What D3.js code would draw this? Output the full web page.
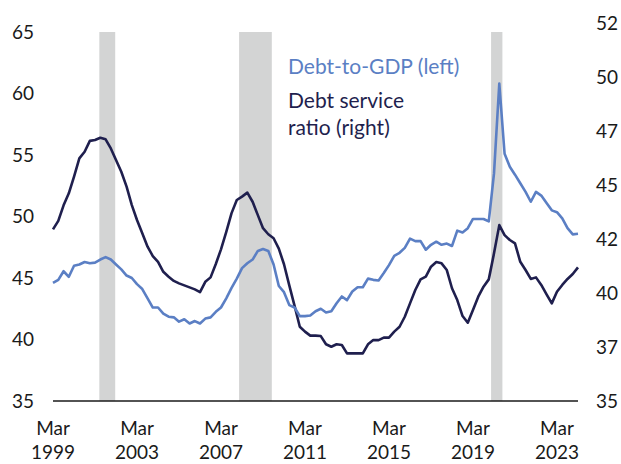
<!DOCTYPE html>
<html><head><meta charset="utf-8">
<script src="https://cdn.jsdelivr.net/npm/d3@7"></script>
<style>body{margin:0;background:#fff}svg{display:block}</style>
</head><body>
<svg id="chart" width="621" height="464"></svg>
<script>
// quarterly data, Mar 1999 .. Mar 2024
const startQuarter = "1999-03-01";
const debtToGDP = [44.6,44.85,45.55,45.1,46.0,46.1,46.3,46.2,46.25,46.5,46.7,46.5,46.1,45.7,45.2,45.0,44.5,44.1,43.35,42.6,
 42.6,42.1,41.85,41.8,41.45,41.65,41.3,41.5,41.3,41.7,41.8,42.25,42.6,43.35,44.2,44.95,45.8,46.2,46.5,47.2,
 47.35,47.2,46.1,44.35,43.85,42.8,42.6,41.9,41.9,41.95,42.3,42.5,42.2,42.3,42.95,43.5,43.2,43.9,44.25,44.25,
 44.95,44.85,44.8,45.4,46.05,46.8,47.05,47.45,48.2,48.0,48.0,47.3,47.7,47.95,47.7,47.8,47.6,48.85,48.7,49.05,
 49.8,49.8,49.8,49.6,53.5,60.8,55.1,54.05,53.4,52.7,52.0,51.2,52.0,51.7,51.1,50.5,50.35,49.85,49.05,48.55,48.6];
const debtService = [42.72,43.1,43.8,44.34,45.09,45.91,46.21,46.7,46.74,46.84,46.77,46.36,45.84,45.31,44.64,43.81,43.14,42.54,41.94,41.52,
 41.26,40.81,40.59,40.4,40.29,40.2,40.11,40.02,39.9,40.36,40.56,41.16,41.82,42.61,43.45,44.04,44.19,44.37,43.96,43.36,
 42.77,42.5,42.32,41.85,41.15,40.2,39.28,38.34,38.12,37.94,37.94,37.92,37.55,37.44,37.55,37.52,37.14,37.14,37.14,37.14,
 37.55,37.74,37.74,37.85,37.85,38.12,38.34,38.79,39.39,39.99,40.47,40.59,41.04,41.25,41.19,40.89,40.07,39.54,38.82,38.52,
 39.09,39.69,40.14,40.47,41.64,42.91,42.46,42.24,42.09,41.26,40.89,40.49,40.56,40.22,39.8,39.39,39.91,40.22,40.49,40.71,41.01];
const recessions = [["2001-05-15","2002-02-15"],["2008-01-10","2009-08-01"],["2020-01-10","2020-07-25"]];
const xTickDates = ["1999-03-01","2003-03-01","2007-03-01","2011-03-01","2015-03-01","2019-03-01","2023-03-01"];
const leftTicks = [35,40,45,50,55,60,65];
const rightTicks = [35,37.43,39.86,42.29,44.71,47.14,49.57,52];
const legendLabels = ["Debt-to-GDP (left)", "Debt service", "ratio (right)"];

const parse = d3.timeParse("%Y-%m-%d");
const t0 = parse(startQuarter);
const dates = debtToGDP.map((_, i) => d3.timeMonth.offset(t0, 3 * i));

const svg = d3.select("#chart");
const FONT = "Lato, 'Open Sans', sans-serif";
const x = d3.scaleTime().domain([t0, dates[dates.length - 1]]).range([53, 578]);
const yL = d3.scaleLinear().domain([35, 65]).range([401, 32]);
const yR = d3.scaleLinear().domain([35, 52]).range([401, 23]);

// recession bars
svg.append("g").selectAll("rect").data(recessions).join("rect")
  .attr("x", d => x(parse(d[0])))
  .attr("width", d => x(parse(d[1])) - x(parse(d[0])))
  .attr("y", yL(65)).attr("height", yL(35) - yL(65))
  .attr("fill", "#d3d4d4");

// axis line
svg.append("line").attr("x1", 53).attr("x2", 578).attr("y1", yL(35)).attr("y2", yL(35))
  .attr("stroke", "#1a1a1a").attr("stroke-width", 1.3);

// lines
const lineL = d3.line().x((d, i) => x(dates[i])).y(d => yL(d));
const lineR = d3.line().x((d, i) => x(dates[i])).y(d => yR(d));
svg.append("path").datum(debtService).attr("d", lineR).attr("fill", "none")
  .attr("stroke", "#1f1f4e").attr("stroke-width", 2.6).attr("stroke-linejoin", "round");
svg.append("path").datum(debtToGDP).attr("d", lineL).attr("fill", "none")
  .attr("stroke", "#5b7fc4").attr("stroke-width", 2.6).attr("stroke-linejoin", "round");

// left axis labels
svg.append("g").selectAll("text").data(leftTicks).join("text")
  .attr("x", 34).attr("y", d => yL(d)).attr("dy", "0.36em")
  .attr("text-anchor", "end").attr("font-family", FONT).attr("font-size", 19)
  .attr("fill", "#1a1a1a").text(d => d);
// right axis labels
svg.append("g").selectAll("text").data(rightTicks).join("text")
  .attr("x", 596).attr("y", d => yR(d)).attr("dy", "0.36em")
  .attr("text-anchor", "start").attr("font-family", FONT).attr("font-size", 19)
  .attr("fill", "#1a1a1a").text(d => d3.format(".0f")(d));
// x axis labels
const xl = svg.append("g").selectAll("text").data(xTickDates).join("text")
  .attr("text-anchor", "middle").attr("font-family", FONT).attr("font-size", 19)
  .attr("fill", "#1a1a1a");
xl.append("tspan").attr("x", d => x(parse(d))).attr("y", 435).text(d => d3.timeFormat("%b")(parse(d)));
xl.append("tspan").attr("x", d => x(parse(d))).attr("y", 459).text(d => d3.timeFormat("%Y")(parse(d)));

// legend
svg.append("text").attr("x", 288).attr("y", 74).attr("font-family", FONT).attr("font-size", 21)
  .attr("fill", "#5b7fc4").text(legendLabels[0]);
svg.append("text").attr("x", 288).attr("y", 107.5).attr("font-family", FONT).attr("font-size", 21)
  .attr("fill", "#1f1f4e").text(legendLabels[1]);
svg.append("text").attr("x", 288).attr("y", 134.5).attr("font-family", FONT).attr("font-size", 21)
  .attr("fill", "#1f1f4e").text(legendLabels[2]);
</script>
</body></html>
